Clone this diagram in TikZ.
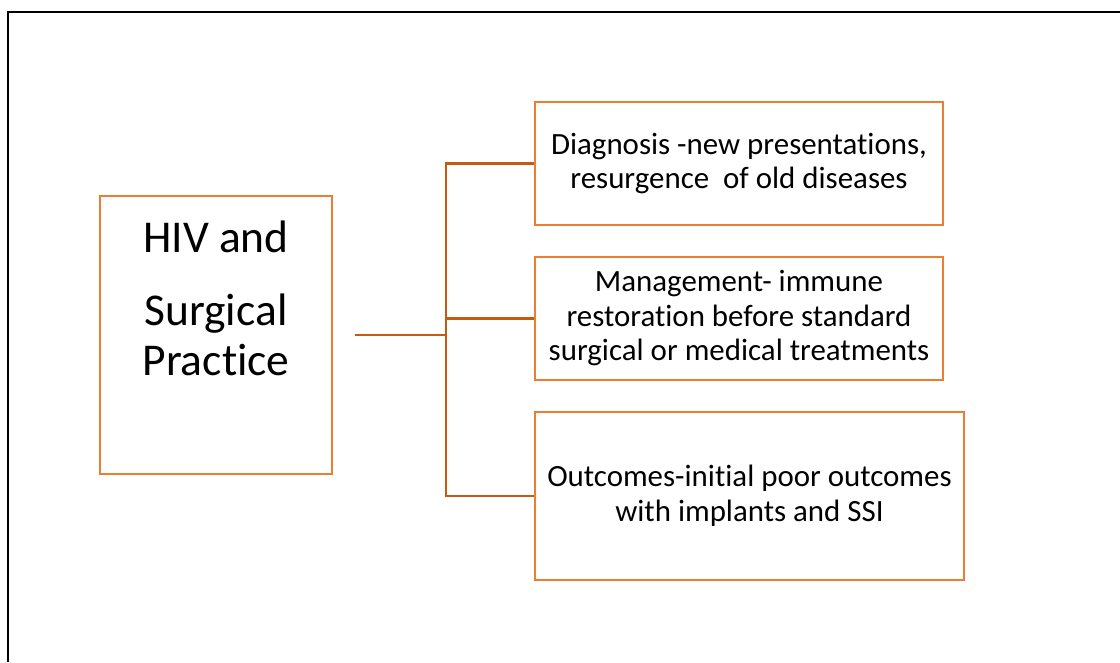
\documentclass[tikz,border=0pt]{standalone}
\usepackage{fontspec}
\setmainfont{Carlito}[Ligatures=CommonOff]
\definecolor{boxorange}{HTML}{ED7D31}
\definecolor{linkorange}{HTML}{C55A11}
\tikzset{
  stepbox/.style={draw=boxorange, line width=2.6pt, fill=white, inner sep=0pt, align=center,
    font=\fontsize{30.9}{34.5}\selectfont},
  link/.style={draw=linkorange, line width=2.5pt},
  titletext/.style={anchor=base, inner sep=0pt, font=\fontsize{45.5}{50}\selectfont},
}
\begin{document}
\begin{tikzpicture}[x=1pt,y=-1pt]
\useasboundingbox (0,0) rectangle (1120,662);
\draw[line width=2.6pt, black] (8,662) -- (8,12) -- (1120,12);
\node[stepbox, minimum width=232pt, minimum height=278pt] (hiv) at (216,335) {};
\node[titletext] (t1) at (216,252) {HIV and};
\node[titletext] (t2) at (216,325) {Surgical};
\node[titletext] (t3) at (216,375) {Practice};
\node[stepbox, minimum width=408pt, minimum height=123pt] (b1) at (739,163.5)
  {Diagnosis -new presentat\kern0pt ions,\\resurgence\ \ of old diseases};
\node[stepbox, minimum width=408pt, minimum height=123pt] (b2) at (739,318.5)
  {Management- immune\\restorat\kern0pt ion before standard\\surgical or medical treatments};
\node[stepbox, minimum width=429pt, minimum height=168pt] (b3) at (749.5,496)
  {Outcomes-init\kern0pt ial poor outcomes\\with implants and SSI};
\coordinate (root) at (355,335);
\coordinate (jn) at (446,335);
\draw[link] (root) -- (jn);
\draw[link] (b1.west) -| (jn) |- (b3.west);
\draw[link] (b2.west) -- (b2.west -| jn);
\end{tikzpicture}
\end{document}
